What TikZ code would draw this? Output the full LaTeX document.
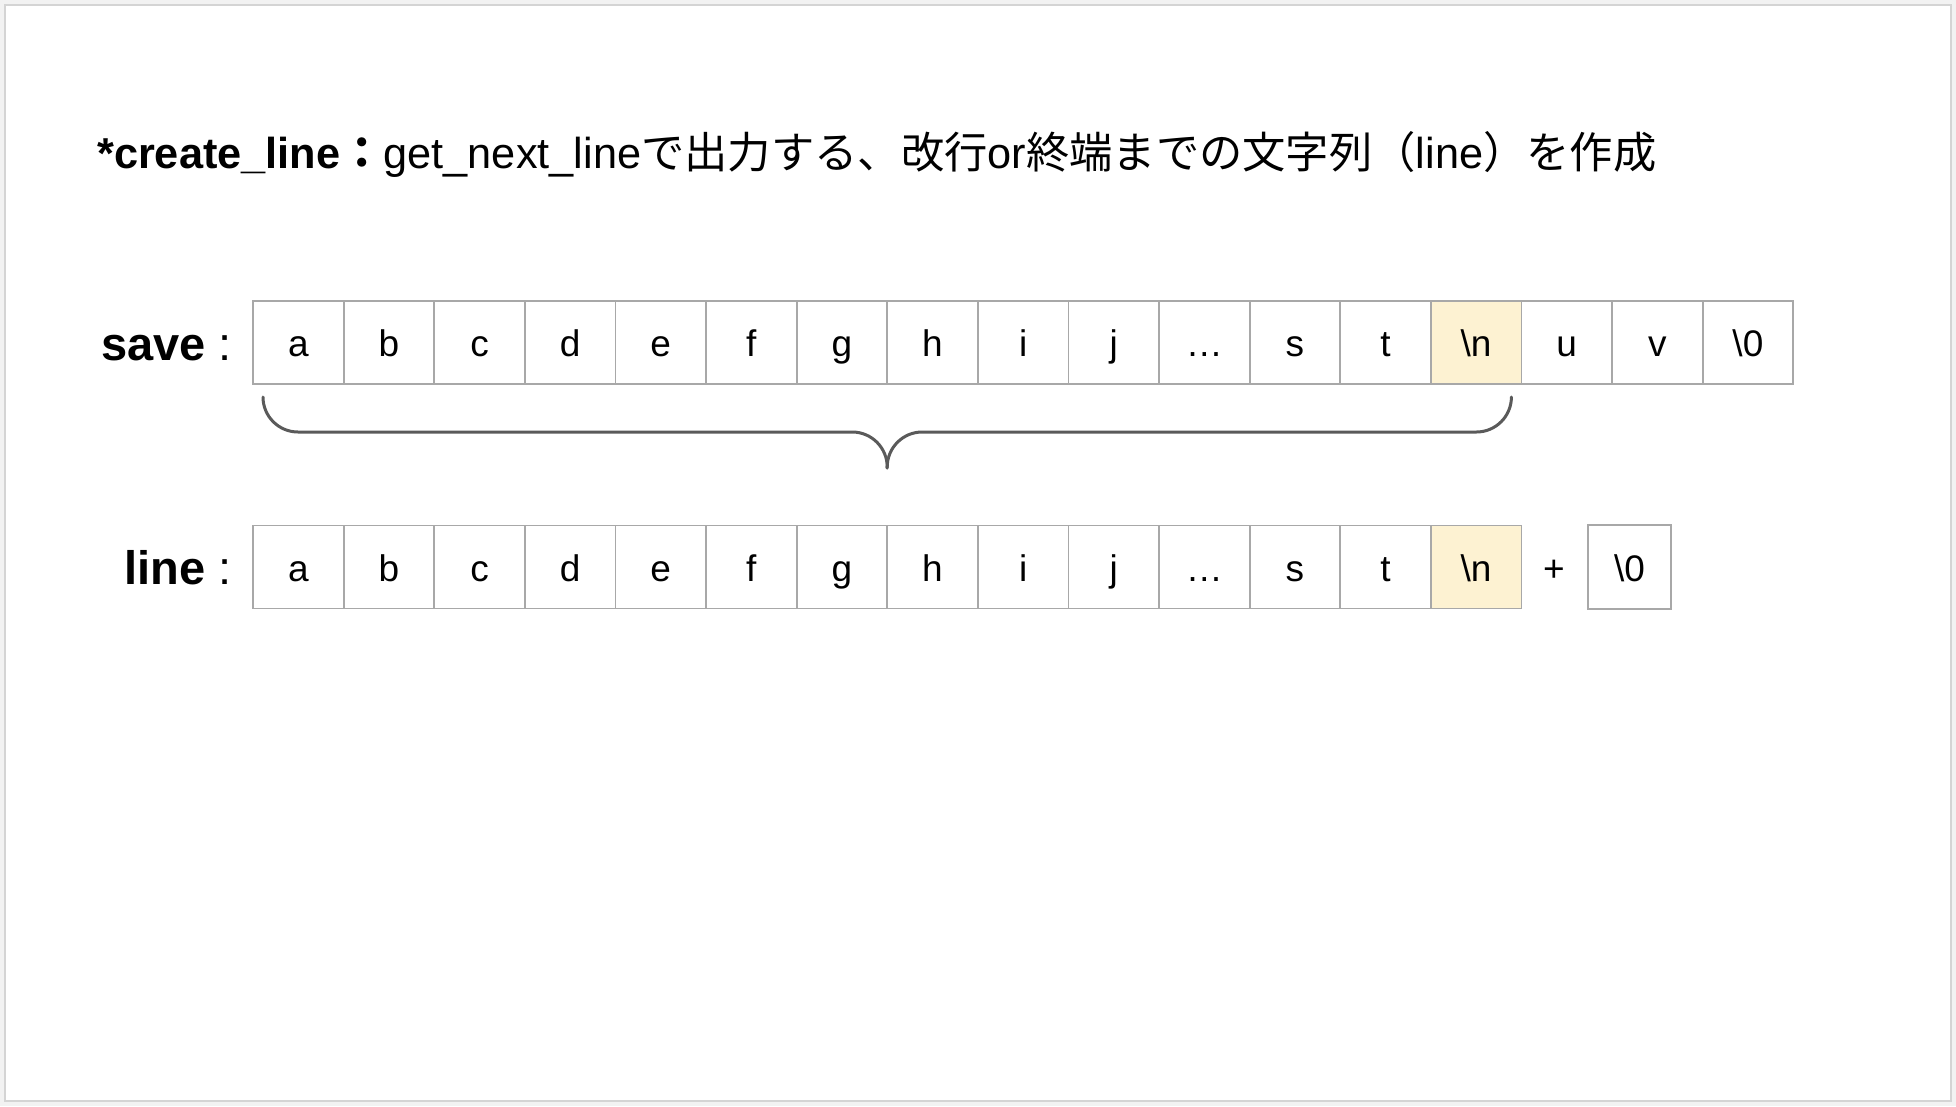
\documentclass[tikz,border=0pt]{standalone}
\usepackage{fontspec}
\setmainfont{Liberation Sans}
\newfontfamily\cjk{Noto Sans CJK JP}
\definecolor{cellgray}{HTML}{A8A8A8}
\definecolor{hilite}{HTML}{FDF2D2}
\definecolor{bracegray}{HTML}{5A5A5A}
\definecolor{framegray}{HTML}{D4D4D4}
\definecolor{outerbg}{HTML}{F2F2F2}
\tikzset{
  cell/.style={draw=cellgray, line width=1.8pt, minimum width=90.6pt, minimum height=83pt,
    inner sep=0pt, text height=28pt, text depth=0pt, font=\fontsize{37}{40}\selectfont},
  plain/.style={inner sep=0pt, text height=28pt, text depth=0pt, font=\fontsize{37}{40}\selectfont},
  rowlabel/.style={inner sep=0pt, anchor=base east, font=\fontsize{47}{52}\selectfont},
  bracestyle/.style={draw=bracegray, line width=3pt, rounded corners=35pt, line cap=round}
}
\begin{document}
\begin{tikzpicture}[x=1pt, y=-1pt]
\useasboundingbox (0,0) rectangle (1956,1106);
\fill[outerbg] (0,0) rectangle (1956,1106);
\filldraw[fill=white, draw=framegray, line width=2pt] (5,5) rectangle (1951,1101);

% title
\node[inner sep=0pt, anchor=base west, font=\fontsize{43.3}{50}\selectfont] (title) at (97,168)
  {\textbf{*create\_line}{\cjk\bfseries ：}get\_next\_line{\cjk で出力する、改行}or{\cjk 終端までの文字列（}line{\cjk ）を作成}};

% labels
\node[rowlabel] (savelbl) at (232,360) {\textbf{save} :};
\node[rowlabel] (linelbl) at (232,584.5) {\textbf{line} :};

% save row
\foreach \t [count=\i from 0] in {a,b,c,d,e,f,g,h,i,j,…,s,t,\textbackslash n,u,v,\textbackslash 0} {
  \node[cell] (s\i) at ({253+90.6*(\i+0.5)},342.5) {\t};
}
\node[cell, fill=hilite] at (s13) {\textbackslash n};

% line row
\foreach \t [count=\i from 0] in {a,b,c,d,e,f,g,h,i,j,…,s,t,\textbackslash n} {
  \node[cell] (l\i) at ({253+90.6*(\i+0.5)},567) {\t};
}
\node[cell, fill=hilite] at (l13) {\textbackslash n};
\node[plain] (plus) at (1554,567) {+};
\node[cell, minimum width=83pt, minimum height=84pt] (nul) at (1629.5,567) {\textbackslash 0};

% brace
\draw[bracestyle] (263,397) -- (263,432) -- (887.2,432) -- (887.2,468);
\draw[bracestyle] (1511.4,397) -- (1511.4,432) -- (887.2,432) -- (887.2,468);
\end{tikzpicture}
\end{document}
